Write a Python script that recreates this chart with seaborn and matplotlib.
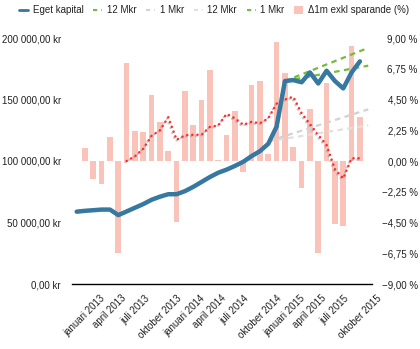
import matplotlib
matplotlib.use("Agg")
import matplotlib.pyplot as plt
import matplotlib.patheffects as pe
import matplotlib.transforms as mtransforms
from matplotlib.lines import Line2D
from matplotlib.patches import Patch
from matplotlib.ticker import FixedLocator
import pandas as pd
import seaborn as sns

# ---------------- data ----------------
# Eget kapital (kr), monthly Dec 2012 .. Oct 2015
ek_start = "2012-12"
ek_values = [58800, 59500, 60000, 60500, 60500, 56000, 59000, 62000, 65000, 68500,
             71000, 73000, 73000, 75500, 79000, 83000, 87000, 90500, 93000, 96000,
             99400, 104000, 108000, 114000, 128000, 165000, 165800, 164000, 172000,
             163000, 173400, 165000, 159000, 172000, 181000]

# Δ1m exkl sparande (%), monthly Jan 2013 .. Oct 2015
bar_start = "2013-01"
bar_values = [0.97, -1.32, -1.68, 1.76, -6.7, 7.17, 2.19, 2.12, 4.83, 2.85, 0.73, -4.44,
              5.12, 2.63, 4.46, 6.66, 0.07, 1.9, 3.68, -0.78, 5.56, 5.85, 0.5, 8.73,
              6.41, 1.05, -1.95, 3.8, -6.7, 5.68, -4.63, -4.73, 8.43, 3.24]

# red dotted series (%), monthly Jun 2013 .. Oct 2015
red_start = "2013-06"
red_values = [0.0, 0.35, 0.9, 1.85, 2.25, 3.2, 1.55,
              1.88, 1.92, 1.92, 2.5, 2.6, 3.45, 3.12, 2.65, 2.87, 2.76, 3.12, 4.2,
              4.5, 4.7, 3.5, 2.7, 1.9, 1.17, -0.6, -1.27, 0.2, 0.2]

# projection lines (kr)
green_months = ["2015-01", "2015-11"]
green_12 = [165000, 177500]
green_1 = [165000, 192000]
gray_months = ["2014-11", "2015-11"]
gray_1 = [116000, 142000]
gray_12 = [116000, 129000]

legend_labels = ["Eget kapital", "12 Mkr", "1 Mkr", "12 Mkr", "1 Mkr", "Δ1m exkl sparande (%)"]

xtick_months = ["2013-01", "2013-04", "2013-07", "2013-10", "2014-01", "2014-04",
                "2014-07", "2014-10", "2015-01", "2015-04", "2015-07", "2015-10"]
xtick_labels = ["januari 2013", "april 2013", "juli 2013", "oktober 2013",
                "januari 2014", "april 2014", "juli 2014", "oktober 2014",
                "januari 2015", "april 2015", "juli 2015", "oktober 2015"]

left_ticks = [0, 50000, 100000, 150000, 200000]
left_labels = ["0,00 kr", "50 000,00 kr", "100 000,00 kr", "150 000,00 kr", "200 000,00 kr"]
right_ticks = [-9, -6.75, -4.5, -2.25, 0, 2.25, 4.5, 6.75, 9]
right_labels = ["−9,00 %", "−6,75 %", "−4,50 %", "−2,25 %", "0,00 %",
                "2,25 %", "4,50 %", "6,75 %", "9,00 %"]

# ---------------- helpers ----------------
def midx(s):
    p = pd.Period(s, freq="M")
    return (p.year - 2013) * 12 + p.month - 1

def series_idx(start, n):
    s = midx(start)
    return list(range(s, s + n))

BLUE = "#36789f"
GREEN = "#72bd3c"
GRAY1 = "#d2d2d2"
GRAY2 = "#e0e0e0"
BAR = "#f9c3b9"
RED = "#ff2a2a"

sns.set_theme(style="white")
plt.rcParams["font.family"] = ["Liberation Sans", "DejaVu Sans"]

fig = plt.figure(figsize=(4.2, 3.49), dpi=100)
ax = fig.add_axes([72 / 420, 1 - 284 / 349, 300 / 420, 246 / 349])
ax2 = ax.twinx()

# bars (percent axis)
bars_df = pd.DataFrame({"x": series_idx(bar_start, len(bar_values)), "y": bar_values})
sns.barplot(data=bars_df, x="x", y="y", native_scale=True, width=0.68, color=BAR,
            saturation=1, errorbar=None, linewidth=0, ax=ax2, zorder=2)

# red dotted line (percent axis)
red_df = pd.DataFrame({"x": series_idx(red_start, len(red_values)), "y": red_values})
sns.lineplot(data=red_df, x="x", y="y", ax=ax2, color=RED, lw=1.8,
             linestyle=(0, (0.05, 2.0)), dash_capstyle="round", zorder=3,
             path_effects=[pe.SimpleLineShadow(offset=(-0.9, -0.9), shadow_color="#999999", alpha=0.55),
                           pe.Normal()])

# projections (kr axis)
gx = [midx(m) for m in green_months]
yx = [midx(m) for m in gray_months]
sns.lineplot(x=yx, y=gray_12, ax=ax, color=GRAY2, lw=1.6, linestyle=(0, (2.5, 2)), zorder=2)
sns.lineplot(x=yx, y=gray_1, ax=ax, color=GRAY1, lw=1.6, linestyle=(0, (2.5, 2)), zorder=2)
sns.lineplot(x=gx, y=green_12, ax=ax, color=GREEN, lw=1.6, linestyle=(0, (2.5, 2)), zorder=2)
sns.lineplot(x=gx, y=green_1, ax=ax, color=GREEN, lw=1.6, linestyle=(0, (2.5, 2)), zorder=2)

# eget kapital
ek_df = pd.DataFrame({"x": series_idx(ek_start, len(ek_values)), "y": ek_values})
sns.lineplot(data=ek_df, x="x", y="y", ax=ax, color=BLUE, lw=3.2,
             solid_joinstyle="round", solid_capstyle="round", zorder=4)

ax.set_zorder(ax2.get_zorder() + 1)
ax.patch.set_visible(False)

# axes setup
ax.set_xlim(-1.56, 34.45)
ax.set_ylim(0, 200000)
ax2.set_ylim(-9, 9)
ax.set_yticks(left_ticks)
ax.set_yticklabels(left_labels)
ax2.set_yticks(right_ticks)
ax2.set_yticklabels(right_labels)
ax.set_xticks([midx(m) for m in xtick_months])
ax.set_xticklabels(xtick_labels, rotation=45)
shift = mtransforms.ScaledTranslation(-7 / 100, 0, fig.dpi_scale_trans)
for lab in ax.get_xticklabels():
    lab.set_transform(lab.get_transform() + shift)
for lab in ax2.get_yticklabels():
    lab.set_ha("right")

ax2.yaxis.set_minor_locator(FixedLocator([-4.5, 0, 4.5, 9]))
ax2.grid(which="minor", axis="y", color="#e4e4e4", lw=0.9)
ax2.grid(which="major", visible=False)
ax.grid(False)

for a in (ax, ax2):
    for s in a.spines.values():
        s.set_visible(False)
    a.set_xlabel("")
    a.set_ylabel("")
ax.spines["bottom"].set_visible(True)
ax.spines["bottom"].set_color("#000000")
ax.spines["bottom"].set_linewidth(1.0)

ax.tick_params(axis="y", length=0, pad=8, labelsize=7, labelcolor="#222222")
ax.tick_params(axis="x", length=0, pad=6.5, labelsize=7, labelcolor="#222222")
ax2.tick_params(axis="y", which="both", length=0, pad=33, labelsize=7, labelcolor="#222222")

# legend
handles = [
    Line2D([0], [0], color=BLUE, lw=2),
    Line2D([0], [0], color=GREEN, lw=1.5, linestyle=(0, (2, 2))),
    Line2D([0], [0], color=GRAY1, lw=1.5, linestyle=(0, (2, 2))),
    Line2D([0], [0], color=GRAY2, lw=1.5, linestyle=(0, (2, 2))),
    Line2D([0], [0], color=GREEN, lw=1.5, linestyle=(0, (2, 2))),
    Patch(facecolor=BAR, edgecolor="none"),
]
fig.legend(handles, legend_labels, loc="upper center", bbox_to_anchor=(0.51, 1.0), ncol=6,
           frameon=False, fontsize=7, handlelength=0.9, handleheight=0.8,
           handletextpad=0.5, columnspacing=1.0, borderaxespad=0.15,
           labelcolor="#222222")

fig.savefig("out.png", dpi=100)
